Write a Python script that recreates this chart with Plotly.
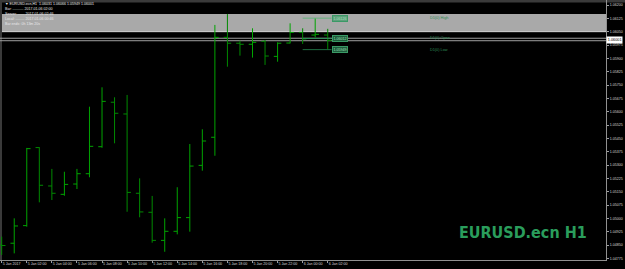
import plotly.graph_objects as go

# ---------------- data ----------------
hours = list(range(27))  # 5 Jan 00:00 .. 6 Jan 02:00, H1 bars
opens = [1.04850, 1.04860, 1.04959, 1.05398, 1.05182, 1.05135, 1.05193, 1.05251, 1.05403,
         1.05653, 1.05587, 1.05141, 1.05034, 1.04876, 1.04927, 1.05004, 1.05298, 1.05456,
         1.06018, 1.05985, 1.05979, 1.05996, 1.05911, 1.05986, 1.06046, 1.06031, 1.06031]
highs = [1.04897, 1.05000, 1.05396, 1.05400, 1.05278, 1.05262, 1.05278, 1.05628, 1.05737,
         1.05681, 1.05694, 1.05225, 1.05126, 1.05000, 1.05175, 1.05418, 1.05501, 1.06088,
         1.06149, 1.05999, 1.06069, 1.06003, 1.05990, 1.06097, 1.06069, 1.06126, 1.06066]
lows = [1.04794, 1.04803, 1.04953, 1.05090, 1.05103, 1.05127, 1.05165, 1.05231, 1.05397,
        1.05422, 1.05037, 1.05006, 1.04863, 1.04812, 1.04910, 1.04925, 1.05268, 1.05352,
        1.05853, 1.05915, 1.05904, 1.05863, 1.05881, 1.05984, 1.05981, 1.06018, 1.05949]
closes = [1.04847, 1.04957, 1.05392, 1.05186, 1.05141, 1.05191, 1.05251, 1.05405, 1.05658,
          1.05591, 1.05146, 1.05036, 1.04876, 1.04927, 1.05004, 1.05294, 1.05435, 1.06018,
          1.05985, 1.05979, 1.05990, 1.05913, 1.05985, 1.06046, 1.06009, 1.06035, 1.06001]

x_tick_hours = [0, 2, 4, 6, 8, 10, 12, 14, 16, 18, 20, 22, 24, 26]
x_tick_labels = ["5 Jan 2017", "5 Jan 02:00", "5 Jan 04:00", "5 Jan 06:00", "5 Jan 08:00",
                 "5 Jan 10:00", "5 Jan 12:00", "5 Jan 14:00", "5 Jan 16:00", "5 Jan 18:00",
                 "5 Jan 20:00", "5 Jan 22:00", "6 Jan 00:00", "6 Jan 02:00"]
y_tick_labels = ["1.06200", "1.06125", "1.06050", "1.05975", "1.05900", "1.05825", "1.05750",
                 "1.05675", "1.05600", "1.05525", "1.05450", "1.05375", "1.05300", "1.05225",
                 "1.05150", "1.05075", "1.05000", "1.04925", "1.04850", "1.04775"]
y_tick_values = [float(v) for v in y_tick_labels]

info_lines = ["\u25bc EURUSD.ecn,H1  1.06031 1.06066 1.05949 1.06001",
              "Bar: ........... 2017.01.06 02:00",
              "Server: ....... 2017.01.06 02:46",
              "Local: ......... 2017.01.06 00:46",
              "Bar ends: 0h 13m 20s"]

band_low, band_high = 1.06050, 1.06150
grey_lines = [1.06013, 1.05999]
bid = 1.06001
d1_levels = {"High": 1.06126, "Open": 1.06012, "Low": 1.05949}
d1_start, d1_end = 24.0, 26.3
watermark = "EURUSD.ecn H1"

# ---------------- figure ----------------
W, H = 625, 269
plot_w, plot_h = 606, 260
fig = go.Figure()

fig.add_trace(go.Ohlc(
    x=hours, open=opens, high=highs, low=lows, close=closes,
    increasing=dict(line=dict(color="#00a400", width=1)),
    decreasing=dict(line=dict(color="#008a00", width=1)),
    tickwidth=0.3, hoverinfo="skip", showlegend=False))

small = dict(family="Liberation Sans, DejaVu Sans, sans-serif", size=3.6, color="#d8d8d8")
tiny = "Liberation Sans, sans-serif"

shapes = [
    dict(type="rect", xref="paper", yref="y", x0=0, x1=1, y0=band_low, y1=band_high,
         fillcolor="#a9a9a9", line=dict(width=0), layer="below"),
    dict(type="line", xref="paper", yref="y", x0=0, x1=1, y0=band_low, y1=band_low,
         line=dict(color="#d6d6d6", width=1), layer="below"),
    dict(type="rect", xref="paper", yref="paper", x0=0, x1=W / plot_w,
         y0=1 - 2.5 / plot_h, y1=1.0, fillcolor="#3a3a3a", line=dict(width=0), layer="below"),
    dict(type="rect", xref="paper", yref="paper", x0=0, x1=2 / plot_w,
         y0=0, y1=1, fillcolor="#3a3a3a", line=dict(width=0), layer="below"),
]
for gl in grey_lines:
    shapes.append(dict(type="line", xref="paper", yref="y", x0=0, x1=1, y0=gl, y1=gl,
                       line=dict(color="#a0a0a0", width=1), layer="below"))
lvl_colors = {"High": "#62b07c", "Open": "#2e8b57", "Low": "#1f6a40"}
for name, val in d1_levels.items():
    shapes.append(dict(type="line", xref="x", yref="y", x0=d1_start, x1=d1_end, y0=val, y1=val,
                       line=dict(color=lvl_colors[name], width=1)))

annotations = []
for i, t in enumerate(info_lines):
    ypx = 4 + i * 5
    annotations.append(dict(xref="paper", yref="paper", x=2.5 / plot_w, y=1 - ypx / plot_h,
                            xanchor="left", yanchor="middle", text=t, showarrow=False,
                            font=dict(family=tiny, size=3.6, color="#e8e8e8")))
box_fill = {"High": "#5f9f7c", "Open": "#1e5c3c", "Low": "#1e5c3c"}
for name, val in d1_levels.items():
    annotations.append(dict(xref="x", yref="y", x=26.35, y=val, xanchor="left", yanchor="middle",
                            text=f"{val:.5f}", showarrow=False, bgcolor=box_fill[name],
                            bordercolor="#3a9a66", borderwidth=1, borderpad=0.5,
                            font=dict(family=tiny, size=3.6, color="#9fe0bb")))
    annotations.append(dict(xref="x", yref="y", x=34.0, y=val, xanchor="left", yanchor="middle",
                            text=f"D1(0) {name}", showarrow=False,
                            font=dict(family=tiny, size=3.8, color="#2e8b57")))
annotations.append(dict(xref="paper", yref="y", x=1.0, y=bid, xanchor="left", yanchor="middle",
                        text=f"{bid:.5f}", showarrow=False, bgcolor="#ffffff", borderpad=0.8,
                        font=dict(family=tiny, size=3.8, color="#000000")))
annotations.append(dict(xref="paper", yref="paper", x=589 / plot_w, y=1 - 232 / plot_h,
                        xanchor="right", yanchor="middle", text=watermark, showarrow=False,
                        font=dict(family="Liberation Sans Narrow, DejaVu Sans Condensed, Roboto, sans-serif",
                                  size=16, color="#2a9d5c", weight=700)))

px_per_hour = 12.54
x0_px = 1.7
fig.update_layout(
    width=W, height=H, margin=dict(l=0, r=W - plot_w, t=0, b=H - plot_h, autoexpand=False),
    paper_bgcolor="#000000", plot_bgcolor="#000000", font=small,
    shapes=shapes, annotations=annotations, showlegend=False,
    xaxis=dict(range=[(0 - x0_px) / px_per_hour, (plot_w - x0_px) / px_per_hour],
               tickmode="array", tickvals=x_tick_hours, ticktext=x_tick_labels, tickangle=0,
               ticklabelposition="outside right", ticks="outside", ticklen=2, tickcolor="#a0a0a0",
               showgrid=False, zeroline=False, showline=True, linecolor="#909090", linewidth=1,
               rangeslider=dict(visible=False), tickfont=small, fixedrange=True),
    yaxis=dict(range=[1.062 - 255 * 0.00005625, 1.062 + 5 * 0.00005625], autorange=False,
               side="right", tickmode="array", tickvals=y_tick_values, ticktext=y_tick_labels,
               ticks="outside", ticklen=2, tickcolor="#a0a0a0", showgrid=False, zeroline=False,
               showline=True, linecolor="#909090", linewidth=1, tickfont=small, fixedrange=True),
)

fig.write_html("out.html", config={"displayModeBar": False})
